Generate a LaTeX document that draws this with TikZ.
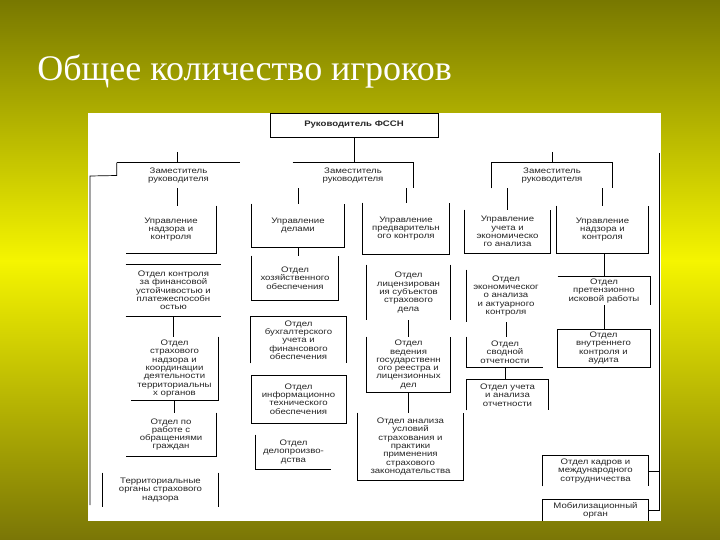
\documentclass[tikz,border=0pt]{standalone}
\usepackage{fontspec}
\newfontfamily\chartfont[FakeStretch=1.2]{Liberation Sans}
\newfontfamily\titlefont{Liberation Serif}
\definecolor{bgtop}{RGB}{120,120,0}
\definecolor{bgmid}{RGB}{245,245,0}
\definecolor{bgbot}{RGB}{122,118,6}
\begin{document}
\begin{tikzpicture}[x=1pt,y=-1pt,line width=0.7pt]
 \tikzstyle{unit} = [inner sep=0,align=center,font=\chartfont\fontsize{8}{8.3}\selectfont,text=black!85]
 \tikzstyle{chief} = [unit,draw,font=\chartfont\bfseries\fontsize{8}{8.3}\selectfont]

 \useasboundingbox (0,0) rectangle (720,540);

 % Slide
 \fill[top color=bgtop,bottom color=bgmid] (0,0) rectangle (720,261);
 \fill[top color=bgmid,bottom color=bgbot] (0,260) rectangle (720,540);
 \fill[white] (88,113) rectangle (661,521);
 \node[anchor=base west,inner sep=0,text=white,font=\titlefont\fontsize{36}{40}\selectfont] (title) at (37,81) {Общее количество игроков};

 % Head and deputies
 \node[chief,minimum width=168,minimum height=24] (head) at (354,125) {Руководитель ФССН};
 \node[unit,minimum width=123,minimum height=25] (depL) at (178.5,175.5) {Заместитель\\руководителя};
 \node[unit,minimum width=120,minimum height=25] (depM) at (353,175.5) {Заместитель\\руководителя};
 \node[unit,minimum width=120,minimum height=25] (depR) at (552,175.5) {Заместитель\\руководителя};
 \coordinate (stubL) at (177,152);
 \coordinate (stubR) at (552,152);
 \coordinate (busL) at (90,176);
 \coordinate (busLend) at (90,505);
 \coordinate (busR) at (659,153);

 \draw (head.south) -- (head.south |- depM.north);
 \draw (stubL) -- (stubL |- depL.north);
 \draw (stubR) -- (stubR |- depR.north);
 \draw (depL.north west) -- (depL.north east);
 \draw (depL.north west) -- (depL.west) -- (busL) -- (busLend);
 \draw (depM.north west) -- (depM.north east) -- (depM.south east);
 \draw (depR.south west) -- (depR.north west) -- (depR.north east) -- (depR.south east);

 % Departments
 \node[unit,minimum width=90,minimum height=47] (upr1) at (171,229.5) {Управление\\надзора и\\контроля};
 \node[unit,minimum width=92,minimum height=43] (upr2) at (298,225.5) {Управление\\делами};
 \node[unit,minimum width=86,minimum height=51] (upr3) at (406,228.5) {Управление\\предварительн\\ого контроля};
 \node[unit,minimum width=85,minimum height=43] (upr4) at (507.5,231.5) {Управление\\учета и\\экономическо\\го анализа};
 \node[unit,minimum width=91,minimum height=47] (upr5) at (602.5,229.5) {Управление\\надзора и\\контроля};

 \draw (depL.south -| stubL) -- (stubL |- upr1.north);
 \draw (upr2.north) -- (upr2.north |- depM.south);
 \draw (upr3.north) -- (upr3.north |- depM.south);
 \draw (upr4.north) -- (upr4.north |- depR.south);
 \draw (upr5.north) -- (upr5.north |- depR.south);

 \draw (upr1.north east) -- (upr1.south east) -- (upr1.south west);
 \draw (upr2.north west) -- (upr2.south west) -- (upr2.south east) -- (upr2.north east);
 \draw (upr3.north west) -- (upr3.south west) -- (upr3.south east) -- (upr3.north east);
 \draw (upr4.north west) -- (upr4.south west) -- (upr4.south east) -- (upr4.north east);
 \draw (upr5.north west) -- (upr5.south west) -- (upr5.south east) -- (upr5.north east);

 % Column 1
 \node[unit,minimum width=95,minimum height=51] (otd11) at (173.5,290.5) {Отдел контроля\\за финансовой\\устойчивостью и\\платежеспособн\\остью};
 \node[unit,minimum width=87,minimum height=63] (otd12) at (174.5,368.5) {Отдел\\страхового\\надзора и\\координации\\деятельности\\территориальны\\х органов};
 \node[unit,minimum width=90,minimum height=43] (otd13) at (171,434.5) {Отдел по\\работе с\\обращениями\\граждан};
 \node[unit,minimum width=115,minimum height=34] (terr) at (160.5,490) {Территориальные\\органы страхового\\надзора};

 \draw (otd11.north west) -- (otd11.north east);
 \draw (otd11.south west) -- (otd11.south east);
 \draw (otd11.south) -- (otd11.south |- otd12.north);
 \draw (otd12.north east) -- (otd12.south east) -- (otd12.south west);
 \draw (otd12.south) -- (otd12.south |- otd13.north);
 \draw (otd13.north east) -- (otd13.south east) -- (otd13.south west);
 \draw (terr.north west) -- (terr.south west);
 \draw (terr.north east) -- (terr.south east);

 % Column 2
 \node[unit,minimum width=86,minimum height=44] (otd21) at (295,278) {Отдел\\хозяйственного\\обеспечения};
 \node[unit,minimum width=95,minimum height=46] (otd22) at (298.5,340) {Отдел\\бухгалтерского\\учета и\\финансового\\обеспечения};
 \node[unit,draw,minimum width=95,minimum height=48] (otd23) at (298.5,399) {Отдел\\информационно\\технического\\обеспечения};
 \node[unit,minimum width=75,minimum height=34] (otd24) at (293.5,452) {Отдел\\делопроизво-\\дства};

 \draw (upr2.south) -- (upr2.south |- otd21.north);
 \draw (otd21.north west) -- (otd21.south west) -- (otd21.south east) -- (otd21.north east);
 \draw (otd22.south west) -- (otd22.north west) -- (otd22.north east) -- (otd22.south east);
 \draw (otd24.north west) -- (otd24.south west) -- (otd24.south east);

 % Column 3
 \node[unit,minimum width=83,minimum height=55] (otd31) at (408.5,292.5) {Отдел\\лицензирован\\ия субъектов\\страхового\\дела};
 \node[unit,minimum width=83,minimum height=55] (otd32) at (408.5,364.5) {Отдел\\ведения\\государственн\\ого реестра и\\лицензионных\\дел};
 \node[unit,minimum width=105,minimum height=67] (otd33) at (410.5,446.5) {Отдел анализа\\условий\\страхования и\\практики\\применения\\страхового\\законодательства};

 \draw (otd31.north west) -- (otd31.south west);
 \draw (otd31.north east) -- (otd31.south east);
 \draw (otd31.south) -- (otd31.south |- otd32.north);
 \draw (otd32.north west) -- (otd32.south west) -- (otd32.south east) -- (otd32.north east);
 \draw (otd32.south) -- (otd32.south |- otd33.north);
 \draw (otd33.north west) -- (otd33.south west) -- (otd33.south east) -- (otd33.north east);

 % Column 4
 \node[unit,minimum width=78,minimum height=52] (otd41) at (506,296) {Отдел\\экономическог\\о анализа\\и актуарного\\контроля};
 \node[unit,minimum width=76,minimum height=30] (otd42) at (505,352) {Отдел\\сводной\\отчетности};
 \node[unit,minimum width=81,minimum height=30] (otd43) at (507.5,395) {Отдел учета\\и анализа\\отчетности};

 \draw (otd41.north west) -- (otd41.south west);
 \draw (otd41.south) -- (otd41.south |- otd42.north);
 \draw (otd42.north west) -- (otd42.south west) -- (otd42.south east);
 \draw (otd42.south) -- (otd42.south |- otd43.north);
 \draw (otd43.south west) -- (otd43.north west) -- (otd43.north east) -- (otd43.south east);

 % Column 5
 \node[unit,minimum width=92,minimum height=28] (otd51) at (604,291) {Отдел\\претензионно\\исковой работы};
 \node[unit,draw,minimum width=93,minimum height=38] (otd52) at (603.5,348) {Отдел\\внутреннего\\контроля и\\аудита};

 \draw (otd51.north) -- (otd51.north |- upr5.south);
 \draw (otd51.north west) -- (otd51.north east) -- (otd51.south east);
 \draw (otd51.south) -- (otd51.south |- otd52.north);

 % Right bus
 \node[unit,minimum width=105,minimum height=30] (kadr) at (595.5,471) {Отдел кадров и\\международного\\сотрудничества};
 \node[unit,minimum width=105,minimum height=21] (mob) at (595.5,510.5) {Мобилизационный\\орган};

 \draw (kadr.south west) -- (kadr.north west) -- (kadr.north east) -- (kadr.south east);
 \draw (mob.south west) -- (mob.north west) -- (mob.north east) -- (mob.south east);
 \draw (busR) -- (busR |- mob.east) -- (mob.east);
 \draw (kadr.east) -- (kadr.east -| busR);

\end{tikzpicture}
\end{document}
